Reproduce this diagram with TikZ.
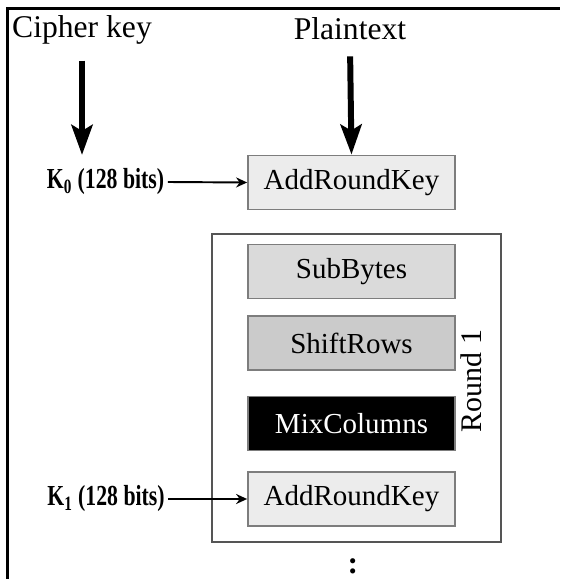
\documentclass[tikz,border=0pt]{standalone}
\usepackage{fontspec}
\setmainfont{Liberation Serif}
\newfontfamily\narrowfont[FakeStretch=0.75]{Liberation Serif}
\usetikzlibrary{arrows.meta, positioning, calc}
\definecolor{boxgray}{RGB}{125,125,125}
\definecolor{roundgray}{RGB}{85,85,85}
\definecolor{keyfill}{RGB}{236,236,236}
\definecolor{subfill}{RGB}{218,218,218}
\definecolor{shiftfill}{RGB}{203,203,203}

\tikzset{
  stagebox/.style={draw=boxgray, line width=1pt, minimum width=4.14cm, minimum height=1.08cm, inner sep=0pt, font=\fontsize{16.5}{18}\selectfont},
  keylabel/.style={font=\narrowfont\bfseries\fontsize{16.5}{18}\selectfont, inner sep=2pt},
  headlabel/.style={font=\fontsize{18}{20}\selectfont},
  bigarrow/.style={line width=3.4pt, shorten <=0.2cm, -{Stealth[length=0.6cm, width=0.42cm, inset=0.12cm]}},
  keyarrow/.style={line width=1.1pt, -{Stealth[length=0.22cm, width=0.2cm]}},
}

\begin{document}
\begin{tikzpicture}
  \useasboundingbox (0,0) rectangle (11.2,-11.58);
  % frame
  \draw[line width=1.7pt] (0.15,-11.58) -- (0.15,-0.17) -- (11.2,-0.17);

  % inputs
  \node[headlabel] (cipher) at (1.64,-0.6) {Cipher key};
  \node[headlabel] (plain) at (7.0,-0.58) {Plaintext};

  % initial round
  \node[stagebox, fill=keyfill] (ark0) at (7.03,-3.65) {AddRoundKey};
  \node[keylabel] (k0) at (2.11,-3.64) {K\textsubscript{0} (128 bits)};

  % round 1
  \node[draw=roundgray, line width=1pt, minimum width=5.78cm, minimum height=6.16cm] (round) at (7.13,-7.76) {};
  \node[stagebox, fill=subfill] (sub) at (7.03,-5.43) {SubBytes};
  \node[stagebox, fill=shiftfill] (shift) at (7.03,-6.86) {ShiftRows};
  \node[stagebox, fill=black, text=white] (mix) at (7.03,-8.47) {MixColumns};
  \node[stagebox, fill=keyfill] (ark1) at (7.03,-9.98) {AddRoundKey};
  \node[keylabel] (k1) at (2.12,-9.98) {K\textsubscript{1} (128 bits)};
  \node[rotate=90, font=\fontsize{17}{19}\selectfont] (rnd) at (9.42,-7.62) {Round 1};

  % more rounds
  \node[font=\bfseries\fontsize{18}{20}\selectfont] (more) at (7.06,-11.32) {:};

  % arrows
  \draw[bigarrow, shorten >=0.2cm] (cipher.south) -- (cipher.south |- k0.north);
  \draw[bigarrow] (plain.south) -- (ark0.north);
  \draw[keyarrow] (k0.east) -- (ark0.west);
  \draw[keyarrow] (k1.east) -- (ark1.west);
\end{tikzpicture}
\end{document}
